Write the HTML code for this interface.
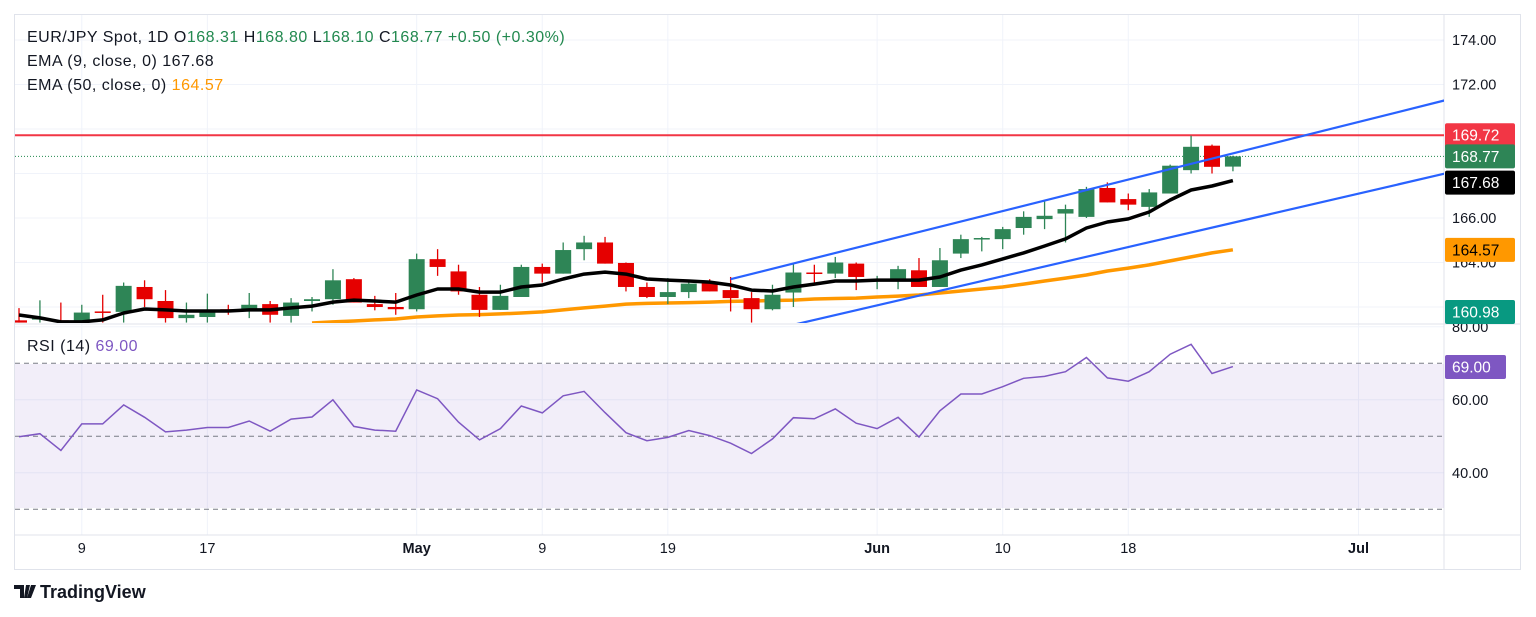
<!DOCTYPE html>
<html><head><meta charset="utf-8"><style>
html,body{margin:0;padding:0;background:#fff;width:1536px;height:617px;overflow:hidden;font-family:"Liberation Sans",sans-serif}
svg text{font-family:"Liberation Sans",sans-serif}
</style></head><body>
<svg id="chart" width="1536" height="617" viewBox="0 0 1536 617" xmlns="http://www.w3.org/2000/svg">
<g id="grid"></g>
<rect x="15" y="364" width="1429" height="144" fill="#7e57c2" fill-opacity="0.1"/>
<g id="main"></g>
<g id="rsi"></g>
<g id="axes"></g>
<g font-size="16" letter-spacing="0.5" xml:space="preserve">
<text x="27" y="42" fill="#131722">EUR/JPY Spot, 1D  O<tspan fill="#22894f">168.31</tspan>  H<tspan fill="#22894f">168.80</tspan>  L<tspan fill="#22894f">168.10</tspan>  C<tspan fill="#22894f">168.77</tspan>  <tspan fill="#22894f">+0.50 (+0.30%)</tspan></text>
<text x="27" y="66" fill="#131722">EMA (9, close, 0)  167.68</text>
<text x="27" y="90" fill="#131722">EMA (50, close, 0)  <tspan fill="#ff9800">164.57</tspan></text>
<text x="27" y="351" fill="#131722">RSI (14)  <tspan fill="#7e57c2">69.00</tspan></text>
</g>
<g>
<path d="M14 585h10v13h-4v-9h-6z M26 585h4l-3 13h-3z M31 585h5l-5 13h-4z" fill="#131722"/>
<text x="40" y="598" font-size="18" fill="#131722" font-weight="bold">TradingView</text>
</g>
</svg>
<script>
const opens=[161.4,161.45,161.4,161.3,161.8,161.78,162.9,162.27,161.5,161.55,161.9,161.87,162.13,161.6,162.27,162.35,163.25,162.13,162.0,161.9,164.15,163.6,162.55,161.87,162.45,163.8,163.5,164.6,164.9,163.98,162.9,162.45,162.67,163.1,162.76,162.4,161.9,162.65,163.55,163.5,163.95,163.2,163.2,163.65,162.9,164.4,165.05,165.05,165.55,165.95,166.2,166.05,167.35,166.85,166.5,167.1,168.15,169.25,168.31];
const highs=[161.95,162.3,162.2,162.1,162.55,163.1,163.2,162.76,162.2,162.6,162.1,162.63,162.27,162.4,162.45,163.7,163.3,162.5,162.63,164.4,164.6,163.9,162.9,163.0,163.9,163.95,164.9,165.2,165.15,164.0,163.1,163.3,163.2,163.25,163.35,162.67,163.0,163.95,163.9,164.25,164.0,163.4,163.85,164.2,164.65,165.25,165.15,165.6,166.3,166.75,166.6,167.4,167.6,167.1,167.3,168.4,169.7,169.3,168.8];
const lows=[161.3,161.3,161.3,161.3,161.3,161.3,162.0,161.3,161.3,161.3,161.65,161.5,161.3,161.3,161.8,162.1,162.2,161.85,161.65,161.8,163.4,162.55,161.55,161.87,162.45,163.1,163.5,164.1,163.95,162.7,162.4,162.13,162.4,162.7,161.8,161.3,161.85,162.0,163.0,163.3,162.76,162.8,162.8,162.9,162.9,164.2,164.5,164.6,165.25,165.5,164.9,166.0,166.7,166.35,166.05,167.1,168.0,168.0,168.1];
const closes=[161.3,161.5,161.35,161.75,161.75,162.95,162.35,161.5,161.65,161.78,161.85,162.1,161.65,162.2,162.35,163.2,162.2,162.0,161.9,164.15,163.8,162.7,161.87,162.5,163.8,163.5,164.56,164.9,163.95,162.9,162.45,162.67,163.05,162.7,162.4,161.9,162.55,163.55,163.5,164.0,163.35,163.25,163.7,162.9,164.1,165.05,165.1,165.5,166.05,166.1,166.4,167.3,166.7,166.6,167.15,168.35,169.2,168.3,168.77];
const ema9=[161.64,161.51,161.33,161.33,161.42,161.73,161.91,161.87,161.82,161.82,161.82,161.87,161.87,161.96,162.04,162.22,162.31,162.27,162.22,162.54,162.81,162.81,162.67,162.67,162.90,162.99,163.26,163.48,163.57,163.48,163.26,163.21,163.17,163.12,162.99,162.76,162.72,162.90,163.03,163.17,163.17,163.21,163.21,163.21,163.35,163.66,163.89,164.16,164.43,164.74,165.06,165.55,165.82,165.96,166.27,166.81,167.26,167.44,167.68];
const ema50=[null,null,null,null,null,null,null,null,null,null,null,null,null,null,161.28,161.33,161.37,161.42,161.46,161.55,161.60,161.64,161.66,161.69,161.73,161.78,161.87,161.96,162.04,162.13,162.16,162.18,162.20,162.22,162.25,162.27,162.29,162.31,162.36,162.38,162.40,162.45,162.49,162.54,162.63,162.72,162.81,162.90,163.03,163.17,163.30,163.44,163.62,163.75,163.89,164.07,164.25,164.43,164.57];
const rsiVals=[49.9,50.7,46.1,53.4,53.4,58.6,55.2,51.2,51.7,52.4,52.4,54.2,51.4,54.7,55.3,60.0,52.7,51.7,51.4,62.7,60.3,53.9,49.0,52.1,58.3,56.4,61.1,62.3,56.5,51.0,48.8,49.7,51.6,50.2,48.1,45.3,49.3,55.1,54.8,57.5,53.6,52.1,55.2,49.8,57.0,61.6,61.6,63.6,65.9,66.4,67.7,71.6,66.0,65.1,67.7,72.5,75.2,67.2,69.1];
const priceTicks=[174,172,170,168,166,164,162];
const priceLabels=["174.00","172.00","","","166.00","164.00",""];
const rsiTicks=[80,60,40];
const dateIdx=[3,9,19,25,31,41,47,53,64];
const dateLabels=["9","17","May","9","19","Jun","10","18","Jul"];
const channelUpper=[[34,163.25],[68.6,171.4]];
const channelLower=[[37,161.2],[68.6,168.1]];
const resistance=169.72;

const NS="http://www.w3.org/2000/svg";
const X=i=>19+i*20.93;
const Y=p=>40+(174-p)*22.25;
const R=v=>436.3-(v-50)*3.65;
function mk(tag,attrs,parent){const e=document.createElementNS(NS,tag);for(const k in attrs)e.setAttribute(k,attrs[k]);parent.appendChild(e);return e;}
const grid=document.getElementById('grid'),main=document.getElementById('main'),rsi=document.getElementById('rsi'),axes=document.getElementById('axes');

let f=mk('rect',{x:14.5,y:14.5,width:1506,height:555,fill:'none',stroke:'#e0e3eb'},grid);

priceTicks.forEach((p,k)=>{
 let l=mk('line',{x1:15,x2:1444,y1:Y(p),y2:Y(p),stroke:'#f0f3fa'},grid);
 
 if(priceLabels[k]){let t=mk('text',{x:1452,y:Y(p)+5,'font-size':14.5,fill:'#131722'},axes);t.textContent=priceLabels[k];
 }
});
rsiTicks.forEach(v=>{
 let l=mk('line',{x1:15,x2:1444,y1:R(v),y2:R(v),stroke:'#f0f3fa'},grid);
 
 let t=mk('text',{x:1452,y:R(v)+5,'font-size':14.5,fill:'#131722'},axes);t.textContent=v.toFixed(2);
 
});
dateIdx.forEach((d,k)=>{
 let l=mk('line',{x1:X(d),x2:X(d),y1:15,y2:535,stroke:'#f0f3fa'},grid);
 
 let t=mk('text',{x:X(d),y:553,'font-size':14.5,fill:'#131722','text-anchor':'middle','font-weight':dateLabels[k].length>2?'bold':'normal'},axes);t.textContent=dateLabels[k];
 
});
[[1444,1444,15,569],[15,1521,324,324],[15,1521,535,535]].forEach(a=>{let l=mk('line',{x1:a[0],x2:a[1],y1:a[2],y2:a[3],stroke:'#e0e3eb'},grid);
 });

const defs=mk('defs',{},document.getElementById('chart'));
const cp=mk('clipPath',{id:'mc'},defs);mk('rect',{x:15,y:15,width:1429,height:308},cp);
main.setAttribute('clip-path','url(#mc)');

let rl=mk('line',{x1:15,x2:1444,y1:Y(resistance),y2:Y(resistance),stroke:'#f23645','stroke-width':2},main);

let lp=mk('line',{x1:15,x2:1444,y1:Y(closes[closes.length-1]),y2:Y(closes[closes.length-1]),stroke:'#22894f','stroke-dasharray':'1 2'},main);


function pl(vals,fn){return vals.map((v,i)=>v==null?null:X(i).toFixed(1)+','+fn(v).toFixed(1)).filter(Boolean).join(' ');}
let e50=mk('polyline',{points:pl(ema50,Y),fill:'none',stroke:'#ff9800','stroke-width':3.5,'stroke-linejoin':'round'},main);


opens.forEach((o,i)=>{
 const c=closes[i],up=c>=o,col=up?'#2e8556':'#e50000';
 const g=mk('g',{},main);
 
 mk('line',{x1:X(i),x2:X(i),y1:Y(highs[i]),y2:Y(lows[i]),stroke:col,'stroke-width':1.3},g);
 const top=Y(Math.max(o,c)),h=Math.max(1.5,Math.abs(Y(o)-Y(c)));
 mk('rect',{x:X(i)-8,y:top,width:16,height:h,fill:col},g);
});
let e9=mk('polyline',{points:pl(ema9,Y),fill:'none',stroke:'#000','stroke-width':3.5,'stroke-linejoin':'round'},main);

[channelUpper,channelLower].forEach((c,k)=>{
 let l=mk('line',{x1:X(c[0][0]),y1:Y(c[0][1]),x2:X(c[1][0]),y2:Y(c[1][1]),stroke:'#2962ff','stroke-width':2.2},main);
 
});

[70,50,30].forEach(v=>{let l=mk('line',{x1:15,x2:1444,y1:R(v),y2:R(v),stroke:'#787b86','stroke-dasharray':'5 4'},rsi);
 });
let rp=mk('polyline',{points:pl(rsiVals,R),fill:'none',stroke:'#7e57c2','stroke-width':1.5},rsi);


function badge(yc,txt,bg,fg,name,w){
 const g=mk('g',{},axes);
 
 mk('rect',{x:1445,y:yc-12,width:w||70,height:24,rx:2,fill:bg},g);
 const t=mk('text',{x:1452,y:yc+5.5,'font-size':15.5,fill:fg},g);t.textContent=txt;
}
badge(Y(resistance),'169.72','#f23645','#fff','resistance-badge');
badge(Y(168.77),'168.77','#2e8556','#fff','last-price-badge');
badge(Y(167.68)+2,'167.68','#000','#fff','ema9-badge');
badge(Y(164.57),'164.57','#ff9800','#000','ema50-badge');
badge(312,'160.98','#089981','#fff','low-price-badge');
badge(R(69),'69.00','#7e57c2','#fff','rsi-badge',61);
</script>
</body></html>
